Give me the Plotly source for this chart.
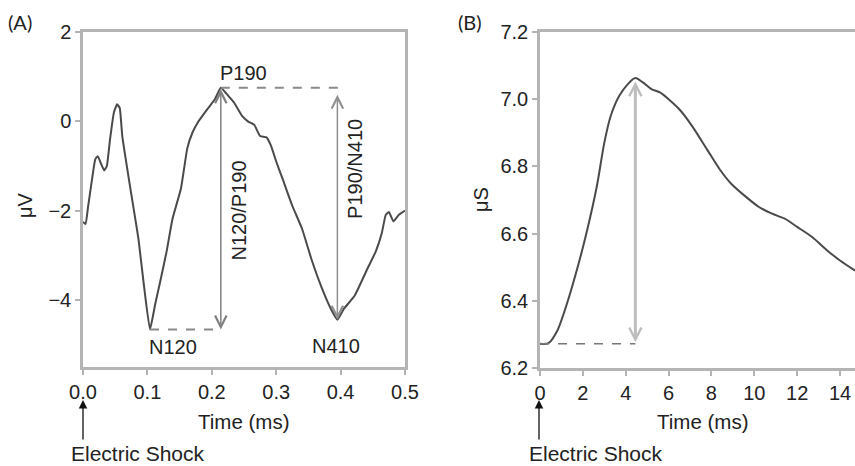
import plotly.graph_objects as go

# ---------------- data ----------------
eeg_time = [0.000, 0.004, 0.008, 0.014, 0.019, 0.023, 0.028, 0.033, 0.037, 0.042, 0.048, 0.053,
            0.057, 0.061, 0.070, 0.078, 0.086, 0.094, 0.104, 0.112, 0.120, 0.130, 0.139,
            0.152, 0.162, 0.170, 0.178, 0.193, 0.205, 0.214, 0.225, 0.235, 0.247, 0.256,
            0.266, 0.275, 0.285, 0.292, 0.300, 0.310, 0.325, 0.340, 0.355, 0.370, 0.385,
            0.395, 0.405, 0.422, 0.440, 0.455, 0.464, 0.470, 0.475, 0.482, 0.490, 0.500]
eeg_uv = [-2.25, -2.30, -1.90, -1.30, -0.85, -0.78, -0.95, -1.10, -1.00, -0.40, 0.20, 0.38,
          0.30, -0.33, -1.18, -1.90, -2.62, -3.60, -4.66, -4.10, -3.58, -2.90, -2.18,
          -1.51, -0.60, -0.25, -0.03, 0.27, 0.50, 0.75, 0.58, 0.41, 0.12, 0.00,
          -0.08, -0.33, -0.36, -0.55, -0.90, -1.29, -1.89, -2.40, -3.10, -3.70, -4.20,
          -4.44, -4.20, -3.90, -3.35, -2.90, -2.50, -2.10, -2.03, -2.24, -2.10, -2.00]

scr_time = [0.0, 0.4, 0.8, 1.3, 1.8, 2.2, 2.65, 3.0, 3.3, 3.7, 4.1, 4.45, 4.8, 5.2, 5.6,
            6.0, 6.5, 7.1, 7.8, 8.4, 8.9, 9.6, 10.2, 10.8, 11.4, 12.0, 12.7, 13.4, 14.0, 14.7]
scr_us = [6.272, 6.274, 6.31, 6.40, 6.51, 6.61, 6.74, 6.87, 6.95, 7.01, 7.045, 7.063, 7.05,
          7.03, 7.02, 7.00, 6.97, 6.92, 6.85, 6.79, 6.75, 6.71, 6.68, 6.66, 6.645, 6.62,
          6.59, 6.55, 6.52, 6.49]

eeg_xticks = [0.0, 0.1, 0.2, 0.3, 0.4, 0.5]
eeg_yticks = [2, 0, -2, -4]
scr_xticks = [0, 2, 4, 6, 8, 10, 12, 14]
scr_yticks = [6.2, 6.4, 6.6, 6.8, 7.0, 7.2]

# derived component positions (from data)
p_idx = eeg_uv.index(max(eeg_uv))
n1_idx = eeg_uv.index(min(eeg_uv[:p_idx]))
n2_idx = p_idx + eeg_uv[p_idx:].index(min(eeg_uv[p_idx:]))
p190_t, p190_v = eeg_time[p_idx], eeg_uv[p_idx]
n120_t, n120_v = eeg_time[n1_idx], eeg_uv[n1_idx]
n410_t, n410_v = eeg_time[n2_idx], eeg_uv[n2_idx]
s_idx = scr_us.index(max(scr_us))
scr_peak_t, scr_peak_v = scr_time[s_idx], scr_us[s_idx]
scr_base = scr_us[0]

W, H = 855, 466
FONT = "Liberation Sans, Arial, sans-serif"
AX = "#b4b4b4"
CURVE = "#4a4a4a"
FS = 20

fig = go.Figure()
fig.add_trace(go.Scatter(x=eeg_time, y=eeg_uv, mode="lines", xaxis="x", yaxis="y",
                         line=dict(color=CURVE, width=2, shape="spline", smoothing=0.4),
                         showlegend=False, hoverinfo="skip"))
fig.add_trace(go.Scatter(x=scr_time, y=scr_us, mode="lines", xaxis="x2", yaxis="y2",
                         line=dict(color=CURVE, width=2, shape="spline", smoothing=0.8),
                         showlegend=False, hoverinfo="skip"))

axcommon = dict(showgrid=False, zeroline=False, showline=True, linecolor=AX, linewidth=2.5,
                ticks="outside", ticklen=5, tickwidth=1.5, tickcolor=AX,
                tickfont=dict(family=FONT, size=FS, color="#222"))


def px_x(p):
    return p / W


def px_y(p):
    return 1 - p / H


fig.update_layout(
    width=W, height=H, margin=dict(l=0, r=0, t=0, b=0, autoexpand=False),
    paper_bgcolor="white", plot_bgcolor="white",
    xaxis=dict(domain=[px_x(83), px_x(405)], range=[0, 0.5], tickvals=eeg_xticks,
               tickformat=".1f", mirror=True, anchor="y", **axcommon),
    yaxis=dict(domain=[px_y(367), px_y(32)], range=[-5.5, 2], tickvals=eeg_yticks,
               mirror=True, anchor="x", **axcommon),
    xaxis2=dict(domain=[px_x(540), 1.0], range=[0, 14.7], tickvals=scr_xticks,
                mirror=True, anchor="y2", **axcommon),
    yaxis2=dict(domain=[px_y(368), px_y(32)], range=[6.2, 7.2], tickvals=scr_yticks,
                tickformat=".1f", mirror=False, anchor="x2", **axcommon),
)

# dashed reference lines
fig.add_shape(type="line", xref="x", yref="y", x0=n120_t, x1=p190_t, y0=n120_v, y1=n120_v,
              line=dict(color="#8a8a8a", width=2, dash="dash"))
fig.add_shape(type="line", xref="x", yref="y", x0=p190_t, x1=n410_t + 0.005, y0=p190_v, y1=p190_v,
              line=dict(color="#8a8a8a", width=2, dash="dash"))
fig.add_shape(type="line", xref="x2", yref="y2", x0=0, x1=scr_peak_t, y0=scr_base, y1=scr_base,
              line=dict(color="#777777", width=1.5, dash="dash"))


# double-headed arrows
def darrow(xref, yref, x, y0, y1, color, width, size):
    fig.add_annotation(xref=xref, yref=yref, axref=xref, ayref=yref,
                       x=x, y=y1, ax=x, ay=y0, text="", showarrow=True,
                       arrowhead=5, arrowside="end+start", startarrowhead=5,
                       arrowsize=size, startarrowsize=size,
                       arrowwidth=width, arrowcolor=color)


darrow("x", "y", p190_t, p190_v, n120_v, "#808080", 1.5, 1.5)
darrow("x", "y", n410_t, p190_v - 0.12, n410_v, "#909090", 1.5, 1.5)
darrow("x2", "y2", scr_peak_t, scr_base, scr_peak_v - 0.01, "#bdbdbd", 3, 0.8)

lab = dict(family=FONT, size=FS, color="#222")


def text(xref, yref, x, y, s, angle=0, font=lab):
    fig.add_annotation(xref=xref, yref=yref, x=x, y=y, text=s, textangle=angle,
                       xanchor="center", yanchor="middle", showarrow=False, font=font)


text("x", "y", p190_t + 0.035, p190_v + 0.33, "P190")
text("x", "y", n120_t + 0.036, n120_v - 0.4, "N120")
text("x", "y", n410_t - 0.002, n410_v - 0.6, "N410")
text("x", "y", p190_t + 0.028, -2.0, "N120/P190", -90)
text("x", "y", n410_t + 0.027, -1.07, "P190/N410", -90)

# axis titles
big = dict(family=FONT, size=20.5, color="#222")
text("paper", "paper", px_x(243), px_y(421), "Time (ms)", font=big)
text("paper", "paper", px_x(702), px_y(421), "Time (ms)", font=big)
text("paper", "paper", px_x(25), px_y(205), "μV", -90)
text("paper", "paper", px_x(481), px_y(200), "μS", -90)

# panel letters
pl = dict(family="Lato, Open Sans, sans-serif", size=20, color="#222")
text("paper", "paper", px_x(20), px_y(22), "(A)", font=pl)
text("paper", "paper", px_x(470), px_y(22), "(B)", font=pl)

# electric shock markers
es = dict(family=FONT, size=21, color="#222")
for xp, xt in [(83, 138), (539, 596)]:
    fig.add_annotation(xref="paper", yref="paper", x=px_x(xp), y=px_y(400), ax=0, ay=41,
                       text="", showarrow=True, arrowhead=2, arrowsize=1.3, arrowwidth=1.3,
                       arrowcolor="#111")
    text("paper", "paper", px_x(xt), px_y(453), "Electric Shock", font=es)

fig.write_html(
    "out.html",
    config={"displayModeBar": False},
    post_script="document.body.style.margin='0';document.body.style.overflow='hidden';",
)
